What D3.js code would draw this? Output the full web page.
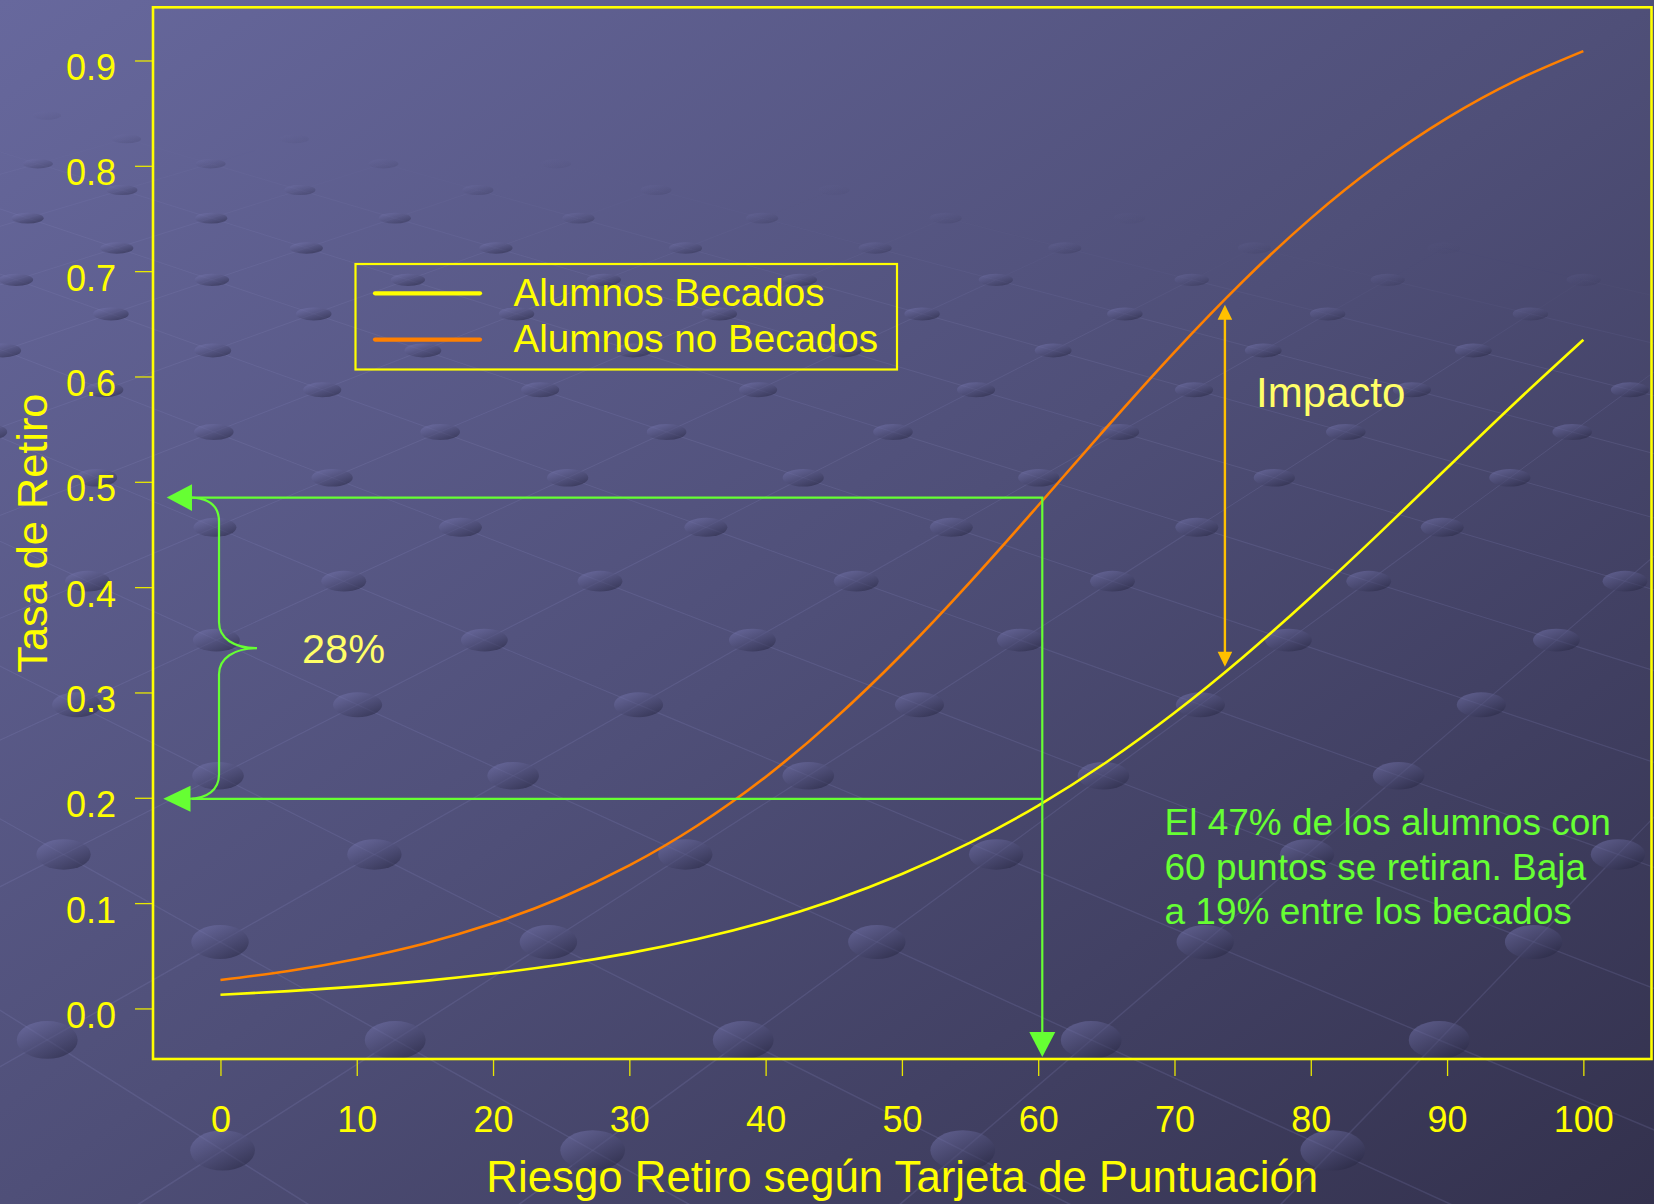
<!DOCTYPE html>
<html><head><meta charset="utf-8">
<script src="https://cdn.jsdelivr.net/npm/d3@7"></script>
<style>
html,body{margin:0;padding:0;background:#4d4d75;overflow:hidden}
svg{display:block}
text{font-family:"Liberation Sans",Arial,Helvetica,sans-serif}
</style></head><body>
<svg id="chart" width="1654" height="1204"></svg>
<script>
// ---------------- data ----------------
const riskScore     = [0, 5, 10, 15, 20, 25, 30, 35, 40, 45, 50, 55, 60, 65, 70, 75, 80, 85, 90, 95, 100];
const becadosRate   = [0.013, 0.0164, 0.0207, 0.0262, 0.0331, 0.0417, 0.0525, 0.0659, 0.0824, 0.1028, 0.1276, 0.1574, 0.1926, 0.2337, 0.2807, 0.3332, 0.3904, 0.4508, 0.5131, 0.5751, 0.6348];
const noBecadosRate = [0.027, 0.0356, 0.047, 0.0617, 0.0808, 0.1051, 0.1358, 0.1737, 0.2198, 0.2742, 0.3363, 0.4048, 0.4775, 0.5514, 0.6232, 0.6901, 0.7501, 0.8019, 0.8453, 0.8807, 0.9089];
const seriesNames   = ["Alumnos Becados", "Alumnos no Becados"];
const seriesColors  = ["#ffff00", "#ff8000"];
const xTickValues   = [0, 10, 20, 30, 40, 50, 60, 70, 80, 90, 100];
const yTickValues   = [0, 0.1, 0.2, 0.3, 0.4, 0.5, 0.6, 0.7, 0.8, 0.9];
const yTickLabels   = ["0.0", "0.1", "0.2", "0.3", "0.4", "0.5", "0.6", "0.7", "0.8", "0.9"];
const xTitle = "Riesgo Retiro según Tarjeta de Puntuación";
const yTitle = "Tasa de Retiro";
const noteLines = ["El 47% de los alumnos con", "60 puntos se retiran. Baja", "a 19% entre los becados"];
const gapLabel = "28%";
const impactLabel = "Impacto";
// annotation anchors (data units)
const markScore = 60.3, markRateNo = 0.485, markRateBec = 0.199;
const impactScore = 73.7, impactTop = 0.668, impactBottom = 0.3245;

(function draw(){
// ---------------- setup ----------------
const W = 1654, H = 1204;
const svg = d3.select("#chart");
const defs = svg.append("defs");

const bg = defs.append("linearGradient").attr("id", "bgGrad")
  .attr("x1", 0).attr("y1", 0).attr("x2", 1).attr("y2", 1);
bg.append("stop").attr("offset", "0%").attr("stop-color", "#67689d");
bg.append("stop").attr("offset", "50%").attr("stop-color", "#4f4f78");
bg.append("stop").attr("offset", "100%").attr("stop-color", "#33314d");
svg.append("rect").attr("width", W).attr("height", H).attr("fill", "url(#bgGrad)");

const dotGrad = defs.append("linearGradient").attr("id", "dotGrad")
  .attr("x1", 0.15).attr("y1", 0.05).attr("x2", 0.85).attr("y2", 0.95);
dotGrad.append("stop").attr("offset", "0%").attr("stop-color", "rgb(120,120,178)").attr("stop-opacity", 0.5);
dotGrad.append("stop").attr("offset", "100%").attr("stop-color", "rgb(36,36,62)").attr("stop-opacity", 0.55);

// ------------- decorative perspective lattice (background) -------------
(function lattice(){
  const f = 2770, hy = -700, cx = 200, a = 0.1, b = 0.095, X0 = 0.0122, Z0 = 1.687, rW = 0.0175;
  const g = svg.append("g");
  const nodes = {};
  const proj = (i, j) => {
    const X = X0 + (i - j) * a, Z = Z0 + (i + j) * b;
    if (Z <= 0.5) return null;
    const sx = cx + f * X / Z, sy = hy + f / Z;
    const op = Math.max(0, Math.min(1, (sy - (95 + 0.1 * sx)) / 110));
    return {sx, sy, Z, op};
  };
  for (let i = -40; i <= 40; i++) for (let j = -40; j <= 40; j++) {
    const p = proj(i, j);
    if (!p) continue;
    if (p.sx < -300 || p.sx > W + 300 || p.sy < -50 || p.sy > H + 100) continue;
    nodes[i + "," + j] = p;
  }
  const lg = g.append("g");
  Object.entries(nodes).forEach(([k, p]) => {
    const [i, j] = k.split(",").map(Number);
    [[i + 1, j], [i, j + 1]].forEach(([a2, b2]) => {
      const q = nodes[a2 + "," + b2];
      if (!q) return;
      const op = Math.min(p.op, q.op);
      if (op <= 0) return;
      lg.append("line").attr("x1", p.sx).attr("y1", p.sy).attr("x2", q.sx).attr("y2", q.sy)
        .attr("stroke", "rgb(150,150,205)").attr("stroke-opacity", 0.17 * op)
        .attr("stroke-width", Math.max(0.8, 2.2 / p.Z));
    });
  });
  const dg = g.append("g");
  Object.values(nodes).forEach(p => {
    if (p.op <= 0) return;
    const rx = rW * f / p.Z, ry = rx * Math.min(0.62, 1 / p.Z);
    dg.append("ellipse").attr("cx", p.sx).attr("cy", p.sy).attr("rx", rx).attr("ry", ry)
      .attr("fill", "url(#dotGrad)").attr("opacity", p.op);
  });
})();

// ---------------- scales ----------------
const x = d3.scaleLinear().domain([-4.95, 105]).range([153, 1651.5]);
const y = d3.scaleLinear().domain([-0.048, 0.9505]).range([1059, 7.3]);
const pL = x.range()[0], pR = x.range()[1], pT = y.range()[1], pB = y.range()[0];

// ---------------- axes ----------------
const xAxis = svg.append("g").attr("transform", `translate(0,${pB})`)
  .call(d3.axisBottom(x).tickValues(xTickValues).tickSize(17).tickFormat(d3.format("d")));
xAxis.select(".domain").remove();
xAxis.selectAll(".tick line").attr("stroke", "#e8e800").attr("stroke-width", 1.3);
xAxis.selectAll(".tick text").attr("fill", "#ffff00").attr("font-size", 36)
  .attr("y", 73).attr("dy", null).style("font-family", '"Liberation Sans",Arial,sans-serif');

const yAxis = svg.append("g").attr("transform", `translate(${pL},0)`)
  .call(d3.axisLeft(y).tickValues(yTickValues).tickSize(18).tickFormat((d, i) => yTickLabels[i]));
yAxis.select(".domain").remove();
yAxis.selectAll(".tick line").attr("stroke", "#e8e800").attr("stroke-width", 1.3);
yAxis.selectAll(".tick text").attr("fill", "#ffff00").attr("font-size", 36)
  .attr("x", -37).attr("dy", null).attr("y", 19).style("font-family", '"Liberation Sans",Arial,sans-serif');

// plot box
svg.append("rect").attr("x", pL).attr("y", pT).attr("width", pR - pL).attr("height", pB - pT)
  .attr("fill", "none").attr("stroke", "#ffff00").attr("stroke-width", 2.6);

// titles
svg.append("text").attr("x", (pL + pR) / 2).attr("y", 1192).attr("text-anchor", "middle")
  .attr("fill", "#ffff00").attr("font-size", 43.8).text(xTitle);
svg.append("text").attr("transform", `translate(47,${(pT + pB) / 2}) rotate(-90)`)
  .attr("text-anchor", "middle").attr("fill", "#ffff00").attr("font-size", 43.3).text(yTitle);

// ---------------- curves ----------------
const line = d3.line().x(d => x(d[0])).y(d => y(d[1])).curve(d3.curveNatural);
const series = [becadosRate, noBecadosRate];
series.forEach((vals, s) => {
  svg.append("path").datum(riskScore.map((r, i) => [r, vals[i]]))
    .attr("d", line).attr("fill", "none").attr("stroke", seriesColors[s])
    .attr("stroke-width", 2.6).attr("stroke-linejoin", "round");
});

// ---------------- legend ----------------
const lgd = svg.append("g");
lgd.append("rect").attr("x", 355.5).attr("y", 264).attr("width", 541.5).attr("height", 105.5)
  .attr("fill", "none").attr("stroke", "#ffff00").attr("stroke-width", 2.2);
seriesNames.forEach((name, i) => {
  const yy = 293.3 + i * 46.3;
  lgd.append("line").attr("x1", 375).attr("x2", 480).attr("y1", yy).attr("y2", yy)
    .attr("stroke", seriesColors[i]).attr("stroke-width", 4.2).attr("stroke-linecap", "round");
  lgd.append("text").attr("x", 513.5).attr("y", yy + 12.7).attr("fill", "#ffff00")
    .attr("font-size", 38.6).text(name);
});

// ---------------- green annotation ----------------
const green = "#66ff33";
const xm = x(markScore), yNo = y(markRateNo), yBec = y(markRateBec);
const tipUp = pL + 13.7, tipLo = pL + 10.3, baseX = pL + 39;
const ga = svg.append("g");
ga.append("path").attr("d", `M${baseX},${yNo}H${xm}V${pB - 20}`)
  .attr("fill", "none").attr("stroke", green).attr("stroke-width", 2.2);
ga.append("path").attr("d", `M${baseX},${yBec}H${xm}`)
  .attr("fill", "none").attr("stroke", green).attr("stroke-width", 2.2);
ga.append("path").attr("d", `M${tipUp},${yNo}L${baseX},${yNo - 13.3}L${baseX},${yNo + 13.3}Z`).attr("fill", green);
ga.append("path").attr("d", `M${tipLo},${yBec}L${baseX - 1.5},${yBec - 13}L${baseX - 1.5},${yBec + 13}Z`).attr("fill", green);
ga.append("path").attr("d", `M${xm},${pB - 2}L${xm - 13},${pB - 27}L${xm + 13},${pB - 27}Z`).attr("fill", green);
// brace
const mid = (yNo + yBec) / 2, bx = pL + 66, px = pL + 104;
ga.append("path").attr("d",
  `M${baseX},${yNo}C${bx - 7},${yNo + 1} ${bx},${yNo + 10} ${bx},${yNo + 24}` +
  `V${mid - 26}C${bx},${mid - 10} ${bx + 15},${mid} ${px},${mid}` +
  `C${bx + 15},${mid} ${bx},${mid + 10} ${bx},${mid + 26}` +
  `V${yBec - 24}C${bx},${yBec - 9} ${bx - 12},${yBec} ${baseX - 3},${yBec}`)
  .attr("fill", "none").attr("stroke", green).attr("stroke-width", 2.2);
svg.append("text").attr("x", 302).attr("y", mid + 15).attr("fill", "#ffff66")
  .attr("font-size", 41.5).text(gapLabel);
noteLines.forEach((t, i) => {
  svg.append("text").attr("x", 1164.5).attr("y", 835 + i * 44.5).attr("fill", green)
    .attr("font-size", 37).text(t);
});

// ---------------- impact arrow ----------------
const amber = "#ffc000";
const xi = x(impactScore), yt = y(impactTop), yb = y(impactBottom);
svg.append("line").attr("x1", xi).attr("x2", xi).attr("y1", yt + 10).attr("y2", yb - 10)
  .attr("stroke", amber).attr("stroke-width", 2.4);
svg.append("path").attr("d", `M${xi},${yt}L${xi - 7.3},${yt + 15}L${xi + 7.3},${yt + 15}Z`).attr("fill", amber);
svg.append("path").attr("d", `M${xi},${yb}L${xi - 7.3},${yb - 15}L${xi + 7.3},${yb - 15}Z`).attr("fill", amber);
svg.append("text").attr("x", 1256).attr("y", 407).attr("fill", "#ffff66")
  .attr("font-size", 42).text(impactLabel);
})();
</script>
</body></html>
